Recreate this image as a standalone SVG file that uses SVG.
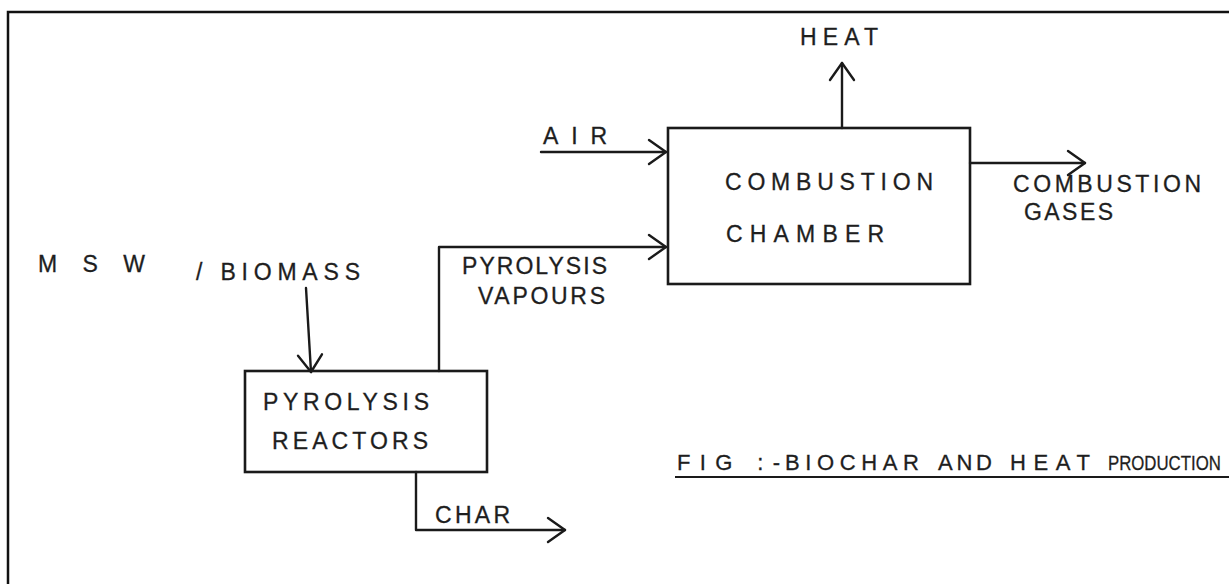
<svg xmlns="http://www.w3.org/2000/svg" width="1229" height="584" viewBox="0 0 1229 584">
<style>
.t{font-family:"Liberation Sans","DejaVu Sans",sans-serif;font-size:23px;fill:#1e1e1e;stroke:#1e1e1e;stroke-width:0.3}
.box{fill:none;stroke:#1a1a1a;stroke-width:2.6}
.c{fill:none;stroke:#1a1a1a;stroke-width:2.4;stroke-linecap:round;stroke-linejoin:round}
</style>
<defs>
<marker id="ah" markerUnits="userSpaceOnUse" markerWidth="40" markerHeight="40" viewBox="-20 -20 40 40" refX="0" refY="0" orient="auto">
<path d="M-17,-12 L0,0 L-17,12" fill="none" stroke="#1a1a1a" stroke-width="2.4" stroke-linecap="round" stroke-linejoin="round"/>
</marker>
</defs>
<rect width="1229" height="584" fill="#fff"/>
<g id="frame">
<path d="M8,584 L8,12 L1229,12" fill="none" stroke="#111" stroke-width="2.5"/>
</g>
<g id="connectors">
<line class="c" x1="541" y1="152" x2="666" y2="152" marker-end="url(#ah)"/>
<polyline class="c" points="439,371 439,247 666,247" marker-end="url(#ah)"/>
<line class="c" x1="842" y1="128" x2="842" y2="63" marker-end="url(#ah)"/>
<line class="c" x1="970" y1="163" x2="1085" y2="163" marker-end="url(#ah)"/>
<line class="c" x1="306" y1="288" x2="311" y2="372" marker-end="url(#ah)"/>
<polyline class="c" points="416,472 416,530 565,530" marker-end="url(#ah)"/>
</g>
<g id="combustion-chamber">
<rect class="box" x="668" y="128" width="302" height="156"/>
<text class="t" x="725" y="190" textLength="208" lengthAdjust="spacing">COMBUSTION</text>
<text class="t" x="726" y="242" textLength="158" lengthAdjust="spacing">CHAMBER</text>
</g>
<g id="pyrolysis-reactors">
<rect class="box" x="245" y="371" width="242" height="101"/>
<text class="t" x="263" y="410" textLength="166" lengthAdjust="spacing">PYROLYSIS</text>
<text class="t" x="272" y="449" textLength="156" lengthAdjust="spacing">REACTORS</text>
</g>
<g id="heat">
<text class="t" x="800" y="45" textLength="78" lengthAdjust="spacing">HEAT</text>
</g>
<g id="air">
<text class="t" x="543" y="144" textLength="64" lengthAdjust="spacing">AIR</text>
</g>
<g id="combustion-gases">
<text class="t" x="1013" y="192" textLength="188" lengthAdjust="spacing">COMBUSTION</text>
<text class="t" x="1024" y="220" textLength="89" lengthAdjust="spacing">GASES</text>
</g>
<g id="pyrolysis-vapours">
<text class="t" x="462" y="274" textLength="145" lengthAdjust="spacing">PYROLYSIS</text>
<text class="t" x="478" y="304" textLength="127" lengthAdjust="spacing">VAPOURS</text>
</g>
<g id="msw-biomass">
<text class="t" x="38" y="272" textLength="107" lengthAdjust="spacing">MSW</text>
<text class="t" x="196" y="280" textLength="164" lengthAdjust="spacing">/ BIOMASS</text>
</g>
<g id="char">
<text class="t" x="435" y="523" textLength="75" lengthAdjust="spacing">CHAR</text>
</g>
<g id="caption">
<text class="t" y="470" style="font-size:22px"><tspan x="677" textLength="103" lengthAdjust="spacing">FIG :-</tspan><tspan x="785" textLength="134" lengthAdjust="spacing">BIOCHAR</tspan><tspan x="938" textLength="54" lengthAdjust="spacing">AND</tspan><tspan x="1010" textLength="80" lengthAdjust="spacing">HEAT</tspan></text>
<text class="t" x="0" y="0" transform="translate(1108,470) scale(0.8,1)" style="font-size:21px">PRODUCTION</text>
<line x1="675" y1="477" x2="1229" y2="477" stroke="#1a1a1a" stroke-width="2"/>
</g>
</svg>
